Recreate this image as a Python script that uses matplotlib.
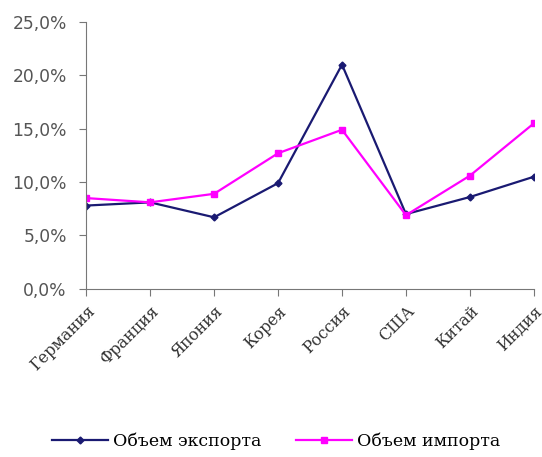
import numpy as np
import matplotlib.pyplot as plt
import matplotlib.transforms as mtransforms
from matplotlib.ticker import FuncFormatter

countries = ['Германия', 'Франция', 'Япония', 'Корея', 'Россия', 'США', 'Китай', 'Индия']
export_share = [7.8, 8.1, 6.7, 9.9, 21.0, 7.0, 8.6, 10.5]
import_share = [8.5, 8.1, 8.9, 12.7, 14.9, 6.9, 10.6, 15.5]

fig = plt.figure(figsize=(5.42, 4.57), dpi=100)
ax = fig.add_axes([0.159, 0.368, 0.826, 0.584])

x = np.arange(len(countries))
ax.plot(x, export_share, color='#1a1a72', lw=1.6, marker='D', ms=3.5, label='Объем экспорта')
ax.plot(x, import_share, color='#ff00ff', lw=1.6, marker='s', ms=4.5, label='Объем импорта')

ax.set_xlim(0, len(countries) - 1)
ax.set_ylim(0, 25)
ax.set_yticks([0, 5, 10, 15, 20, 25])
ax.yaxis.set_major_formatter(FuncFormatter(lambda v, p: ('%.1f%%' % v).replace('.', ',')))
ax.set_xticks(x)
ax.set_xticklabels(countries, rotation=45, ha='right', rotation_mode='anchor',
                   family='DejaVu Serif', fontsize=11.6, color='#333333')

# shift labels a little left so the last one stays inside the figure
shift = mtransforms.ScaledTranslation(-4 / 72, 0, fig.dpi_scale_trans)
for lbl in ax.get_xticklabels():
    lbl.set_transform(lbl.get_transform() + shift)

for s in ['top', 'right']:
    ax.spines[s].set_visible(False)
for s in ['left', 'bottom']:
    ax.spines[s].set_color('#777777')
ax.tick_params(axis='y', labelsize=12.3, labelcolor='#555555', color='#777777', length=5, pad=9)
ax.tick_params(axis='x', color='#777777', length=5, pad=5)

fig.legend(loc='lower center', bbox_to_anchor=(0.51, -0.018), ncol=2, frameon=False,
           prop={'family': 'DejaVu Serif', 'size': 12.5}, handlelength=3.2,
           columnspacing=2.0, handletextpad=0.3)

fig.savefig('out.png', dpi=100)
